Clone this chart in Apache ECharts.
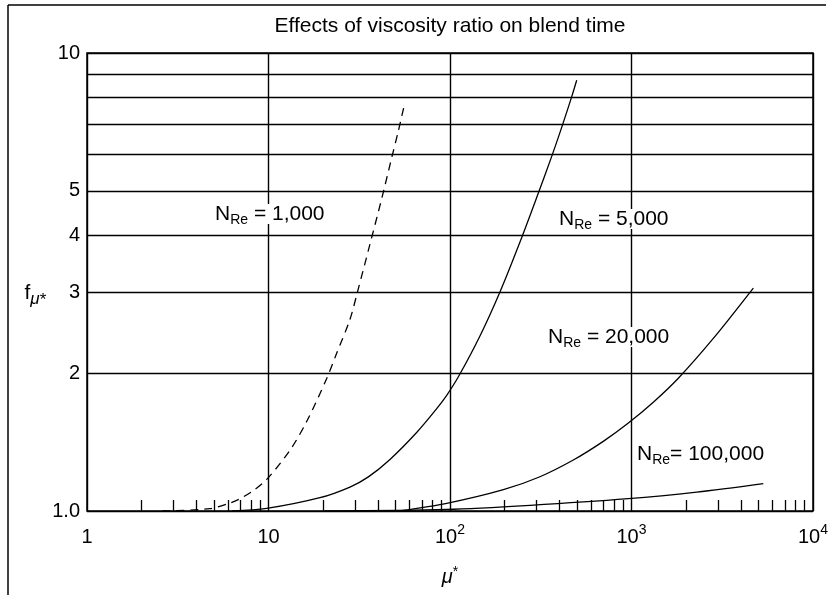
<!DOCTYPE html>
<html>
<head>
<meta charset="utf-8">
<script src="https://cdn.jsdelivr.net/npm/echarts@6/dist/echarts.min.js"></script>
<style>
html, body { margin: 0; padding: 0; background: #fff; }
#main { width: 829px; height: 595px; }
</style>
</head>
<body>
<div id="main"></div>
<script>
var FONT = "'Liberation Sans', Arial, Helvetica, sans-serif";

// N_Re = 1,000 (dashed)
var mu1000 = [2.6, 4.76, 6.14, 6.97, 8.22, 9.81, 13.1, 16.2, 20.9, 23.8, 28.1, 31.0, 36.2, 42.0, 47.7, 51.9, 55.8];
var f1000 = [1.0, 1.012, 1.041, 1.064, 1.107, 1.174, 1.355, 1.566, 1.944, 2.215, 2.62, 3.02, 3.82, 4.80, 5.90, 6.75, 7.65];

// N_Re = 5,000
var mu5000 = [6.29, 9.77, 19.2, 28.1, 35.5, 46.7, 65.5, 84.5, 95.9, 111, 146, 189, 243, 300, 363, 416, 468, 499];
var f5000 = [1.0, 1.013, 1.069, 1.128, 1.187, 1.296, 1.484, 1.673, 1.789, 1.961, 2.408, 3.016, 3.867, 4.83, 5.94, 6.95, 8.02, 8.72];

// N_Re = 20,000
var mu20000 = [53, 95.9, 197, 313, 478, 699, 953, 1319, 1811, 2823, 4690];
var f20000 = [1.0, 1.039, 1.113, 1.188, 1.292, 1.419, 1.552, 1.728, 1.949, 2.381, 3.067];

// N_Re = 100,000
var mu100000 = [20.5, 95.9, 276, 960, 2287, 5323];
var f100000 = [1.0, 1.008, 1.029, 1.064, 1.100, 1.148];

var xMinorTicks = [2, 3, 4, 5, 6, 7, 8, 9,
    20, 30, 40, 50, 60, 70, 80, 90,
    200, 300, 400, 500, 600, 700, 800, 900,
    2000, 3000, 4000, 5000, 6000, 7000, 8000, 9000];
var yGridValues = [1, 2, 3, 4, 5, 6, 7, 8, 9, 10];
var yLabelValues = [1, 2, 3, 4, 5, 10];

function pairs(xs, ys) {
    return xs.map(function (x, i) { return [x, ys[i]]; });
}

var reRich = {
    n: { fontFamily: FONT, fontSize: 21, lineHeight: 20, verticalAlign: 'top', fill: '#000' },
    s: { fontFamily: FONT, fontSize: 14, lineHeight: 16, padding: [9, 0, 0, 0], verticalAlign: 'top', fill: '#000' }
};

function reLabel(text, left, top) {
    return {
        type: 'text',
        left: left,
        top: top,
        z: 100,
        style: {
            text: '{n|N}{s|Re}{n|' + text + '}',
            backgroundColor: '#fff',
            padding: [0, 3],
            rich: reRich
        }
    };
}

function curve(name, xs, ys, dashed) {
    return {
        name: name,
        type: 'line',
        data: pairs(xs, ys),
        smooth: 0.3,
        symbol: 'none',
        silent: true,
        lineStyle: { color: '#000', width: 1.3, type: dashed ? [8, 6] : 'solid' }
    };
}

var myChart = echarts.init(document.getElementById('main'));

var option = {
    animation: false,
    backgroundColor: '#fff',
    title: {
        text: 'Effects of viscosity ratio on blend time',
        left: 450,
        top: 16,
        padding: 0,
        textAlign: 'center',
        textStyle: { fontFamily: FONT, fontSize: 21, fontWeight: 'normal', color: '#000' }
    },
    grid: {
        left: 87, right: 16, top: 53, bottom: 84,
        show: true,
        borderColor: '#000',
        borderWidth: 1.5,
        outerBoundsMode: 'none'
    },
    xAxis: [{
        type: 'log',
        logBase: 10,
        min: 1,
        max: 10000,
        position: 'bottom',
        axisLine: { show: false },
        axisTick: { show: false },
        splitLine: { show: true, lineStyle: { color: '#000', width: 1.4 } },
        axisLabel: {
            margin: 12,
            formatter: function (v) {
                var e = Math.round(Math.log(v) / Math.LN10);
                if (e === 0) return '{b|1}';
                if (e === 1) return '{b|10}';
                return '{b|10}{p|' + e + '}';
            },
            rich: {
                b: { fontFamily: FONT, fontSize: 20, lineHeight: 24, verticalAlign: 'bottom', color: '#000' },
                p: { fontFamily: FONT, fontSize: 14, lineHeight: 14, verticalAlign: 'top', color: '#000' }
            }
        },
        name: '{m|μ}{st|*}',
        nameLocation: 'middle',
        nameGap: 54,
        nameTextStyle: {
            rich: {
                m: { fontFamily: FONT, fontSize: 20, fontStyle: 'italic', lineHeight: 22, verticalAlign: 'bottom', color: '#000' },
                st: { fontFamily: FONT, fontSize: 14, lineHeight: 14, verticalAlign: 'top', color: '#000' }
            }
        }
    }, {
        type: 'log',
        logBase: 10,
        min: 1,
        max: 10000,
        position: 'bottom',
        axisLine: { show: false },
        axisLabel: { show: false },
        splitLine: { show: false },
        axisTick: {
            show: true,
            inside: true,
            length: 11,
            customValues: xMinorTicks,
            lineStyle: { color: '#000', width: 1.3 }
        }
    }],
    yAxis: {
        type: 'log',
        logBase: 10,
        min: 1,
        max: 10,
        axisLine: { show: false },
        axisTick: { show: false, customValues: yGridValues },
        splitLine: { show: true, lineStyle: { color: '#000', width: 1.4 } },
        axisLabel: {
            customValues: yLabelValues,
            margin: 7,
            fontFamily: FONT,
            fontSize: 20,
            color: '#000',
            formatter: function (v) {
                return Math.abs(v - 1) < 1e-6 ? '1.0' : String(Math.round(v));
            }
        },
        name: '{f|f}{m|μ}{st|*}',
        nameLocation: 'middle',
        nameRotate: 0,
        nameGap: 38,
        nameTextStyle: {
            padding: [22, 0, 0, 0],
            rich: {
                f: { fontFamily: FONT, fontSize: 21, lineHeight: 20, verticalAlign: 'top', color: '#000' },
                m: { fontFamily: FONT, fontSize: 17, fontStyle: 'italic', lineHeight: 16, padding: [8, 0, 0, 0], verticalAlign: 'top', color: '#000' },
                st: { fontFamily: FONT, fontSize: 17, lineHeight: 16, padding: [9, 0, 0, 0], verticalAlign: 'top', color: '#000' }
            }
        }
    },
    graphic: [
        { type: 'line', z: 100, shape: { x1: 8, y1: 5, x2: 826, y2: 5 }, style: { stroke: '#000', lineWidth: 1.5 } },
        { type: 'line', z: 100, shape: { x1: 8, y1: 5, x2: 8, y2: 595 }, style: { stroke: '#000', lineWidth: 1.5 } },
        reLabel(' = 1,000', 212, 204),
        reLabel(' = 5,000', 556, 209),
        reLabel(' = 20,000', 545, 327),
        reLabel('= 100,000', 634, 444)
    ],
    series: [
        curve('N_Re = 1,000', mu1000, f1000, true),
        curve('N_Re = 5,000', mu5000, f5000, false),
        curve('N_Re = 20,000', mu20000, f20000, false),
        curve('N_Re = 100,000', mu100000, f100000, false)
    ]
};
myChart.setOption(option);
</script>
</body>
</html>
